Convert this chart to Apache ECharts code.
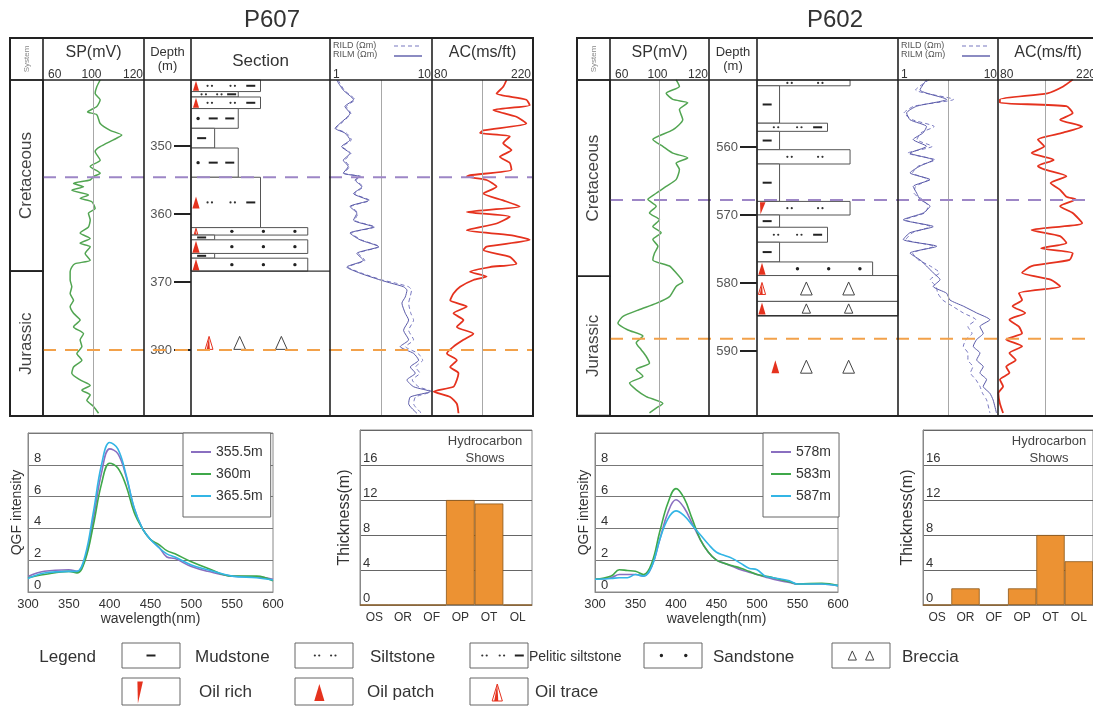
<!DOCTYPE html>
<html><head><meta charset="utf-8">
<script src="https://cdn.jsdelivr.net/npm/echarts@6/dist/echarts.min.js"></script>
<style>html,body{margin:0;padding:0;background:#fff}#c{width:1093px;height:706px}</style>
</head><body><div id="c"></div>
<script>
// ================= DATA =================
// ---- P607 well logs ----
const p607SpDepth = [340.3,341.3,342.3,343.2,344.2,345.0,345.4,346.7,347.7,348.4,349.1,350.1,350.8,352.1,353.0,354.0,354.5,355.0,355.5,356.0,356.5,357.2,357.7,358.2,359.2,359.9,360.9,361.9,362.8,363.6,364.3,364.8,365.8,366.8,367.3,367.8,368.5,369.7,370.7,371.7,372.7,373.6,374.6,375.6,376.6,377.6,378.5,379.5,380.5,381.5,382.5,383.4,384.4,385.2,385.9,386.6,387.4,388.3,389.3];
const p607Sp = [105.3,102.6,101.3,105.3,102.6,95.3,102.6,105.3,113.2,122.4,115.8,105.3,101.3,105.3,97.4,105.3,100,97.4,84.2,92.1,82.8,96.0,89.4,98.7,101.3,96.0,97.4,96.0,89.4,97.4,89.4,97.4,93.4,97.4,85.5,82.8,81.5,81.5,82.8,81.5,84.2,81.5,84.2,89.4,84.2,92.1,89.4,90.8,86.8,90.8,84.2,82.8,89.4,97.4,90.8,97.4,94.7,100,104];
const p607RilDepth = [340.3,341.8,343.2,344.2,345.2,346.7,347.4,348.1,349.1,350.1,351.1,352.1,353.0,354.0,354.5,355.0,356.0,357.0,358.0,358.9,359.9,360.9,361.9,362.8,363.8,364.8,365.8,366.8,367.8,368.7,369.7,370.2,370.7,371.2,372.2,373.1,374.6,375.6,377.1,378.5,379.5,380.5,381.5,382.5,383.4,384.4,385.4,386.1,386.9,387.9,389.3];
const p607Rilm = [1.16,1.35,1.70,1.40,1.57,1.25,1.12,1.40,1.57,1.30,1.57,1.35,1.51,1.35,1.97,1.76,2.05,1.70,2.38,1.57,1.83,1.70,2.67,1.57,1.97,2.99,1.83,2.13,1.46,1.97,3.10,4.04,5.26,5.68,5.47,5.07,5.47,5.90,5.26,5.90,4.88,6.61,7.39,6.13,6.86,5.68,6.61,9.63,6.13,5.90,7.12];
const p607Rild = [1.20,1.38,1.75,1.45,1.60,1.28,1.15,1.45,1.62,1.33,1.60,1.40,1.55,1.38,2.02,1.80,2.10,1.75,2.45,1.62,1.88,1.75,2.75,1.62,2.02,3.05,1.90,2.20,1.50,2.05,3.25,4.50,5.90,6.30,6.10,5.90,6.20,6.60,5.90,6.60,5.50,7.30,8.10,6.90,7.60,6.40,7.40,9.90,6.90,6.60,7.90];
const p607AcDepth = [340.3,341.3,342.3,343.2,344.0,344.7,345.7,346.7,347.7,348.1,348.6,349.6,350.6,351.6,352.5,353.5,354.3,354.5,355.0,356.0,357.0,358.0,358.9,359.7,360.4,361.4,362.4,363.1,363.8,364.8,365.3,366.3,367.3,367.8,368.5,369.2,369.7,370.7,371.7,372.7,373.6,374.6,375.6,376.6,377.6,378.5,379.5,380.5,381.5,382.5,383.4,384.4,385.4,386.1,386.9,387.9,389.3];
const p607Ac = [183.3,178.7,169.5,210.8,215.4,164.9,197.0,210.8,151.1,146.6,187.9,178.7,190.2,174.1,187.9,190.2,132.8,128.2,155.7,169.5,151.1,178.7,201.6,128.2,187.9,169.5,128.2,187.9,215.4,155.7,151.1,187.9,197.0,160.3,132.8,155.7,137.4,119.0,109.8,105.2,128.2,109.8,123.6,114.4,137.4,123.6,109.8,100.7,114.4,105.2,116.7,114.4,109.8,82.3,105.2,114.4,116.7];
const p607DepthTicks = [350,360,370,380];
const p607SysNames = ['Cretaceous','Jurassic'];
const p607SysTop = [340.3,368.4];
const p607SysBase = [368.4,389.7];
const p607Markers = [354.6,380.0];
const p607LayerTop = [340.3,342.0,342.8,344.5,347.4,350.3,354.6,362.0,363.1,363.8,365.8,366.5,378.2];
const p607LayerBase = [342.0,342.8,344.5,347.4,350.3,354.6,362.0,363.1,363.8,365.8,366.5,368.4,379.7];
const p607Grain = [50,34,50,34,17,34,50,84,17,84,17,84,100];
const p607Litho = ['pelitic','pelitic','pelitic','muddySand','mud','muddySand','pelitic','sand','mud','sand','mud','sand','breccia'];
const p607Oil = ['patch','','patch','','','','patch','trace','','patch','','patch','trace'];
const p607Boxed = [1,1,1,1,1,1,1,1,1,1,1,1,0];
const p607SectionBase = [368.4];

// ---- P602 well logs ----
const p602SpDepth = [550.1,551.1,552.1,553.0,553.5,554.5,556.0,557.5,558.9,559.9,560.9,561.6,562.4,563.3,564.8,565.8,566.8,567.7,568.7,569.7,570.7,571.7,572.6,573.6,574.6,575.6,576.6,577.5,578.5,579.8,580.5,582.0,583.0,583.9,584.9,585.9,586.9,587.8,588.8,589.8,590.8,591.8,592.7,593.7,594.7,595.7,596.7,597.7,598.4,599.1];
const p602Sp = [113.4,116.1,105.4,110.7,122.8,116.1,118.8,110.7,94.6,102.7,110.7,122.8,113.4,116.1,113.4,105.4,97.3,90.6,97.3,91.9,100,94.6,101.3,94.6,98.7,96.0,94.6,108.1,113.4,118.8,113.4,108.1,97.3,83.9,70.5,66.4,74.5,86.6,81.2,85.2,89.3,91.9,81.2,86.6,75.8,81.2,89.3,102.7,97.3,91.9];
const p602RilDepth = [550.1,551.6,553.0,554.0,555.0,556.0,557.0,557.9,558.9,559.9,560.9,561.9,562.8,563.8,564.8,565.8,566.8,567.7,568.7,569.7,570.7,571.7,572.6,573.6,574.6,575.6,576.6,577.5,578.5,579.5,580.5,581.5,582.5,583.4,584.4,585.4,586.4,587.4,588.3,589.3,590.3,591.3,592.3,593.2,594.2,595.2,596.2,597.2,599.1];
const p602Rilm = [1.93,1.66,3.06,1.54,1.22,1.32,1.93,1.79,1.42,1.93,1.32,2.25,1.66,1.32,2.09,1.42,1.54,1.66,2.09,1.79,1.13,2.25,1.32,1.13,2.44,1.32,1.66,1.93,2.25,2.63,2.25,3.06,3.31,4.50,6.12,8.29,6.60,7.12,6.12,5.66,6.60,6.12,7.12,6.60,7.68,7.12,8.29,8.94,9.65];
const p602Rild = [2.05,1.50,3.60,1.45,1.15,1.40,2.30,1.70,1.55,2.20,1.25,2.35,1.60,1.40,2.00,1.50,1.45,1.75,2.00,1.85,1.18,2.10,1.40,1.20,2.30,1.40,1.60,2.10,2.60,2.10,2.40,2.50,2.80,3.50,4.50,6.00,5.00,5.50,4.80,4.50,5.00,5.00,5.60,5.30,6.00,6.60,7.00,7.70,8.30];
const p602AcDepth = [550.1,551.1,552.1,553.0,553.5,554.0,555.0,556.0,557.0,557.9,558.9,559.9,560.9,561.9,562.8,563.3,564.3,565.3,566.3,567.3,567.7,568.7,569.7,571.2,572.2,573.1,574.1,574.9,575.6,576.6,577.5,578.5,579.5,580.5,581.5,582.5,583.4,584.4,585.4,586.4,587.4,588.3,589.3,590.3,591.3,592.3,593.2,594.2,595.2,596.2,597.7,599.1];
const p602Ac = [190.1,176.1,152.8,82.8,82.8,180.8,190.1,171.5,204.1,176.1,138.8,148.1,129.5,162.1,138.8,148.1,180.8,157.5,171.5,180.8,194.8,171.5,190.1,204.1,129.5,171.5,180.8,143.5,190.1,185.5,129.5,115.5,157.5,171.5,110.8,115.5,101.5,120.1,96.8,110.8,115.5,92.1,115.5,96.8,106.1,92.1,96.8,82.8,87.5,80.5,82.8,87.5];
const p602DepthTicks = [560,570,580,590];
const p602SysNames = ['Cretaceous','Jurassic'];
const p602SysTop = [550.15,579.0];
const p602SysBase = [579.0,599.5];
const p602Markers = [567.8,588.2];
const p602LayerTop = [550.15,551.0,556.5,557.7,560.4,562.5,568.0,570.0,571.8,574.0,576.9,578.9,582.7,591.6];
const p602LayerBase = [551.0,556.5,557.7,560.4,562.5,568.0,570.0,571.8,574.0,576.9,578.9,582.7,584.8,593.0];
const p602Grain = [66,16,50,16,66,16,66,16,50,16,82,100,100,100];
const p602Litho = ['silt','mud','pelitic','mud','silt','mud','silt','mud','pelitic','mud','sand','breccia','breccia','breccia'];
const p602Oil = ['','','','','','','rich','','','','patch','trace','patch','patch'];
const p602Boxed = [1,1,1,1,1,1,1,1,1,1,1,1,1,0];
const p602SectionBase = [584.8];

// ---- QGF spectra ----
const p607Wavelength = [300,320,350,360,370,380,390,400,410,420,430,440,450,460,470,480,500,520,550,580,600];
const qgf355 = [0.98,1.3,1.4,1.3,2.1,4.6,7.5,9.0,8.7,7.3,5.25,4.0,3.3,2.85,2.2,2.1,1.6,1.3,1.0,0.95,0.8];
const qgf360 = [0.9,1.1,1.3,1.2,2.0,4.2,6.8,8.1,7.8,6.7,5.0,4.0,3.3,3.0,2.6,2.4,1.9,1.5,1.0,1.0,0.7];
const qgf365 = [0.85,1.2,1.3,1.3,2.3,5.0,8.0,9.4,9.0,7.4,5.3,4.0,3.3,2.8,2.4,2.2,1.7,1.4,1.0,0.9,0.75];
const p607QgfNames = ['355.5m','360m','365.5m'];
const p602Wavelength = [300,320,330,340,350,360,370,380,390,400,410,420,430,440,450,460,470,480,490,500,510,520,540,550,580,600];
const qgf578 = [0.8,0.9,1.1,1.1,1.1,1.0,1.6,3.3,5.0,5.8,5.3,4.3,3.3,2.5,2.0,1.8,1.6,1.4,1.25,1.1,0.95,0.8,0.6,0.5,0.5,0.4];
const qgf583 = [0.8,1.0,1.4,1.35,1.3,1.1,1.8,3.8,5.6,6.5,5.9,4.6,3.3,2.5,2.0,1.8,1.65,1.5,1.3,1.1,1.0,0.9,0.65,0.5,0.55,0.4];
const qgf587 = [0.8,0.85,0.9,0.9,1.1,1.0,1.6,3.3,4.6,5.1,4.8,4.2,3.6,3.0,2.5,2.3,2.1,1.8,1.5,1.4,1.0,0.9,0.7,0.5,0.5,0.4];
const p602QgfNames = ['578m','583m','587m'];

// ---- Hydrocarbon shows ----
const showCategories = ['OS','OR','OF','OP','OT','OL'];
const p607Thickness = [0,0,0,12,11.6,0];
const p602Thickness = [0,1.9,0,1.9,8.0,5.0];

// ---- legend labels ----
const lithoLegendNames = ['Mudstone','Siltstone','Pelitic siltstone','Sandstone','Breccia'];
const oilLegendNames = ['Oil rich','Oil patch','Oil trace'];

// ================= STYLE / LAYOUT =================
const FONT = '"Liberation Sans", Arial, sans-serif';
const NARROW = '"Liberation Sans Narrow", "Liberation Sans", Arial, sans-serif';
const RED = '#e5321e';
const HEAD_TOP = 38, BODY_TOP = 80, BODY_BOT = 416;
const MARK_COLORS = ['#9d86c6', '#f2a14a'];
const QGF_COLORS = ['#8a6fc0', '#3fa84a', '#33b5e5'];

const grid = [], xAxis = [], yAxis = [], series = [], graphic = [], legend = [];

function addGrid(left, top, width, height, xa, ya) {
  const gi = grid.length;
  grid.push({left, top, width, height, show:false});
  xAxis.push(Object.assign({gridIndex:gi, show:false}, xa));
  yAxis.push(Object.assign({gridIndex:gi, show:false}, ya));
  return gi;
}

function T(x, y, text, size, align, color, font, extra) {
  graphic.push(Object.assign({type:'text', x, y, z:20, silent:true, style:{text, font: size + 'px ' + (font || FONT), fill: color || '#333', align: align || 'center', textAlign: align || 'center', verticalAlign:'middle', textVerticalAlign:'middle'}}, extra || {}));
}
function L(x1, y1, x2, y2, color, width, dash) {
  graphic.push({type:'line', z:10, silent:true, shape:{x1, y1, x2, y2}, style:{stroke: color, lineWidth: width, lineDash: dash || null}});
}

const PATTERNS = {
  mud: [[0.45,'dash']],
  silt: [[0.35,'ss'],[0.68,'ss']],
  pelitic: [[0.27,'ss'],[0.6,'ss'],[0.86,'dash']],
  muddySand: [[0.15,'dot'],[0.47,'dash'],[0.82,'dash']],
  sand: [[0.35,'dot'],[0.62,'dot'],[0.89,'dot']],
  breccia: [[0.35,'tri'],[0.65,'tri']]
};

function symEls(kind, x, y, s) {
  if (kind === 'dash') return [{type:'rect', shape:{x:x-4.5, y:y-1, width:9, height:2}, style:{fill:'#222'}}];
  if (kind === 'ss') return [{type:'circle', shape:{cx:x-2.2, cy:y, r:1.1}, style:{fill:'#333'}}, {type:'circle', shape:{cx:x+2.2, cy:y, r:1.1}, style:{fill:'#333'}}];
  if (kind === 'dot') return [{type:'circle', shape:{cx:x, cy:y, r:1.7}, style:{fill:'#222'}}];
  if (kind === 'tri') { const t = 13 * s, hw = t * 0.45; return [{type:'polygon', shape:{points:[[x, y-t/2],[x+hw, y+t/2],[x-hw, y+t/2]]}, style:{fill:'none', stroke:'#444', lineWidth:1}}]; }
  return [];
}
function oilEls(kind, x, y, t) {
  const hw = t * 0.3;
  if (kind === 'patch') return [{type:'polygon', shape:{points:[[x, y-t/2],[x+hw, y+t/2],[x-hw, y+t/2]]}, style:{fill:RED}}];
  if (kind === 'trace') return [
    {type:'polygon', shape:{points:[[x, y-t/2],[x+hw, y+t/2],[x-hw, y+t/2]]}, style:{fill:'none', stroke:RED, lineWidth:1}},
    {type:'polygon', shape:{points:[[x, y-t/2],[x+hw*0.2, y+t/2],[x-hw*0.6, y+t/2]]}, style:{fill:RED}}];
  if (kind === 'rich') return [{type:'polygon', shape:{points:[[x-2, y-t/2],[x+3.5, y-t/2],[x-1.5, y+t/2]]}, style:{fill:RED}}];
  return [];
}

function systemRender(names) {
  return function (params, api) {
    const a = api.coord([0, api.value(0)]), b = api.coord([1, api.value(1)]);
    return {type:'group', children:[
      {type:'rect', shape:{x:a[0], y:a[1], width:b[0]-a[0], height:b[1]-a[1]}, style:{fill:'none', stroke:'#222', lineWidth:1.6}},
      {type:'text', x:(a[0]+b[0])/2, y:(a[1]+b[1])/2, rotation:Math.PI/2,
       style:{text:names[params.dataIndex], font:'17px ' + FONT, fill:'#444', align:'center', textAlign:'center', verticalAlign:'middle', textVerticalAlign:'middle'}}
    ]};
  };
}
function sectionRender(lith, oil, boxed) {
  return function (params, api) {
    const i = params.dataIndex;
    const a = api.coord([0, api.value(0)]), b = api.coord([api.value(2), api.value(1)]);
    const x0 = a[0], y0 = a[1], w = b[0]-a[0], h = b[1]-a[1], cy = y0 + h/2;
    const ch = [];
    if (boxed[i]) ch.push({type:'rect', shape:{x:x0, y:y0, width:w, height:h}, style:{fill:'#fff', stroke:'#555', lineWidth:1}});
    const s = boxed[i] ? Math.max(0.4, Math.min(1, (h-5)/13)) : 1;
    (PATTERNS[lith[i]] || []).forEach(p => symEls(p[1], x0 + p[0]*w, cy, s).forEach(e => ch.push(e)));
    if (oil[i]) {
      const t = boxed[i] ? Math.min(12, h - 1.5) : 13;
      oilEls(oil[i], x0 + (boxed[i] ? 5 : 0.13*w), cy, t).forEach(e => ch.push(e));
    }
    return {type:'group', children:ch};
  };
}
function hlineRender(colors, dash, width, xmax) {
  return function (params, api) {
    const d = api.value(1);
    const a = api.coord([0, d]), b = api.coord([xmax, d]);
    return {type:'line', shape:{x1:a[0], y1:a[1], x2:b[0], y2:b[1]}, style:{stroke:colors[params.dataIndex % colors.length], lineWidth:width, lineDash:dash}};
  };
}
function logLine(g, vals, depths, color, width, dashed, ref) {
  const s = {type:'line', xAxisIndex:g, yAxisIndex:g, data: depths.map((d, i) => [vals[i], d]),
    showSymbol:false, symbol:'none', smooth:0.2, silent:true, z:3,
    lineStyle:{color, width, type: dashed ? [4,3] : 'solid'}, itemStyle:{color}};
  if (ref != null) s.markLine = {silent:true, symbol:'none', label:{show:false}, animation:false,
    lineStyle:{color:'#a8a8a8', width:1, type:'solid'}, data:[{xAxis:ref}]};
  return s;
}

function buildWell(c) {
  const C = c.cols, H = BODY_BOT - BODY_TOP;
  const wd = k => C[k][1] - C[k][0];
  const dAxis = extra => Object.assign({type:'value', min:c.dmin, max:c.dmax, inverse:true}, extra || {});
  // system column
  let g = addGrid(C.sys[0], BODY_TOP, wd('sys'), H, {type:'value', min:0, max:1}, dAxis());
  series.push({type:'custom', xAxisIndex:g, yAxisIndex:g, silent:true, data:c.sysTop.map((t, i) => [t, c.sysBase[i]]), renderItem:systemRender(c.sysNames)});
  // SP
  g = addGrid(C.sp[0], BODY_TOP, wd('sp'), H, {type:'value', min:60, max:140}, dAxis());
  series.push(logLine(g, c.sp, c.spDepth, '#52a552', 1.5, false, 100));
  // section + depth axis
  g = addGrid(C.sec[0], BODY_TOP, wd('sec'), H, {type:'value', min:0, max:100}, dAxis({show:true, position:'left',
    axisLine:{show:false}, splitLine:{show:false},
    axisTick:{show:true, length:17, lineStyle:{color:'#222', width:2}, customValues:c.ticks},
    axisLabel:{show:true, customValues:c.ticks, color:'#555', fontSize:13, margin:19, fontFamily:FONT}}));
  series.push({type:'custom', xAxisIndex:g, yAxisIndex:g, silent:true, data:c.layerTop.map((t, i) => [t, c.layerBase[i], c.grain[i]]), renderItem:sectionRender(c.litho, c.oil, c.boxed)});
  series.push({type:'custom', xAxisIndex:g, yAxisIndex:g, silent:true, z:4, data:c.secBase.map(d => [0, d]), renderItem:hlineRender(['#333'], null, 1.4, 100)});
  // resistivity
  g = addGrid(C.ril[0], BODY_TOP, wd('ril'), H, {type:'log', min:1, max:10, logBase:10}, dAxis());
  series.push(logLine(g, c.rild, c.rilDepth, '#7878c0', 1, true, 3.162));
  series.push(logLine(g, c.rilm, c.rilDepth, '#5a5aa8', 1, false));
  // AC
  g = addGrid(C.ac[0], BODY_TOP, wd('ac'), H, {type:'value', min:80, max:220}, dAxis());
  series.push(logLine(g, c.ac, c.acDepth, RED, 1.8, false, 150));
  // marker dashed lines overlay
  g = addGrid(C.sp[0], BODY_TOP, C.ac[1] - C.sp[0], H, {type:'value', min:0, max:1}, dAxis());
  series.push({type:'custom', xAxisIndex:g, yAxisIndex:g, silent:true, z:6, data:c.markers.map(d => [0, d]), renderItem:hlineRender(MARK_COLORS, [13,9], 2, 1)});

  // frame
  const Lx = C.sys[0], Rx = C.ac[1];
  graphic.push({type:'rect', z:10, silent:true, shape:{x:Lx, y:HEAD_TOP, width:Rx-Lx, height:BODY_BOT-HEAD_TOP}, style:{fill:'none', stroke:'#222', lineWidth:2}});
  [C.sp[0], C.dep[0], C.sec[0], C.ril[0], C.ac[0]].forEach(x => L(x, HEAD_TOP, x, BODY_BOT, '#222', 1.6));
  L(Lx, BODY_TOP, Rx, BODY_TOP, '#222', 1.6);

  // header
  const mid = k => (C[k][0] + C[k][1]) / 2;
  T(mid('sys'), 59, 'System', 8, 'center', '#888', FONT, {rotation:Math.PI/2});
  T(mid('sp'), 53, 'SP(mV)', 16);
  T(C.sp[0] + 5, 75, '60', 12, 'left');
  T(C.sp[0] + wd('sp')*0.48, 75, '100', 12, 'center');
  T(C.sp[1] - 1, 75, '120', 12, 'right');
  T(mid('dep'), 52, 'Depth', 13);
  T(mid('dep'), 66, '(m)', 13);
  if (c.showSection) T(mid('sec'), 61, 'Section', 17);
  T(C.ril[0] + 3, 46, 'RILD (\u03a9m)', 9, 'left', '#555');
  T(C.ril[0] + 3, 55, 'RILM (\u03a9m)', 9, 'left', '#555');
  L(C.ril[0] + 64, 46, C.ril[0] + 92, 46, '#7878c0', 1.2, [4,3]);
  L(C.ril[0] + 64, 56, C.ril[0] + 92, 56, '#5a5aa8', 1.4);
  T(C.ril[0] + 3, 75, '1', 12, 'left');
  T(C.ril[1] - 1, 75, '10', 12, 'right');
  T(mid('ac'), 53, 'AC(ms/ft)', 16);
  T(C.ac[0] + 2, 75, '80', 12, 'left');
  T(C.ac[1] - 2, 75, '220', 12, 'right');
  T(c.titleX, 20, c.name, 24, 'center', '#333');
}

buildWell({name:'P607', titleX:272, showSection:true, dmin:340.3, dmax:389.7,
  cols:{sys:[10,43], sp:[43,144], dep:[144,191], sec:[191,330], ril:[330,432], ac:[432,533]},
  ticks:p607DepthTicks, sysNames:p607SysNames, sysTop:p607SysTop, sysBase:p607SysBase,
  sp:p607Sp, spDepth:p607SpDepth, rilm:p607Rilm, rild:p607Rild, rilDepth:p607RilDepth, ac:p607Ac, acDepth:p607AcDepth,
  layerTop:p607LayerTop, layerBase:p607LayerBase, grain:p607Grain, litho:p607Litho, oil:p607Oil, boxed:p607Boxed,
  secBase:p607SectionBase, markers:p607Markers});
buildWell({name:'P602', titleX:835, showSection:false, dmin:550.15, dmax:599.55,
  cols:{sys:[577,610], sp:[610,709], dep:[709,757], sec:[757,898], ril:[898,998], ac:[998,1098]},
  ticks:p602DepthTicks, sysNames:p602SysNames, sysTop:p602SysTop, sysBase:p602SysBase,
  sp:p602Sp, spDepth:p602SpDepth, rilm:p602Rilm, rild:p602Rild, rilDepth:p602RilDepth, ac:p602Ac, acDepth:p602AcDepth,
  layerTop:p602LayerTop, layerBase:p602LayerBase, grain:p602Grain, litho:p602Litho, oil:p602Oil, boxed:p602Boxed,
  secBase:p602SectionBase, markers:p602Markers});

// ---- QGF charts ----
function buildQgf(left, width, wl, curves, names, legendLeft) {
  const gi = grid.length;
  grid.push({left, top:433, width, height:159, show:true, borderColor:'#888', borderWidth:1, backgroundColor:'#fff'});
  xAxis.push({gridIndex:gi, type:'value', min:300, max:600, interval:50,
    axisLine:{show:true, lineStyle:{color:'#888'}}, axisTick:{show:false}, splitLine:{show:false},
    axisLabel:{color:'#333', fontSize:13, margin:6, fontFamily:FONT},
    name:'wavelength(nm)', nameLocation:'middle', nameGap:19, nameTextStyle:{fontSize:14, color:'#333', fontFamily:FONT}});
  yAxis.push({gridIndex:gi, type:'value', min:0, max:10, interval:2,
    axisLine:{show:true, lineStyle:{color:'#888'}}, axisTick:{show:false},
    splitLine:{show:true, lineStyle:{color:'#777', width:1}},
    axisLabel:{inside:true, verticalAlign:'bottom', margin:6, fontSize:13, color:'#333', fontFamily:FONT, formatter:v => v === 10 ? '' : v},
    name:'QGF intensity', nameLocation:'middle', nameGap:4, nameTextStyle:{fontSize:14, color:'#333', fontFamily:FONT}});
  curves.forEach((cv, k) => series.push({type:'line', name:names[k], xAxisIndex:gi, yAxisIndex:gi,
    data: wl.map((w, i) => [w, cv[i]]), showSymbol:false, symbol:'none', smooth:0.4,
    lineStyle:{color:QGF_COLORS[k], width:1.6}, itemStyle:{color:QGF_COLORS[k]}, z:3}));
  legend.push({data:names, orient:'vertical', left:legendLeft, top:433, padding:[12,8,14,8], itemGap:8,
    icon:'rect', itemWidth:20, itemHeight:2, selectedMode:false,
    textStyle:{fontSize:14, color:'#333', fontFamily:FONT}, borderColor:'#666', borderWidth:1, backgroundColor:'#fff'});
}
buildQgf(28, 245, p607Wavelength, [qgf355, qgf360, qgf365], p607QgfNames, 183);
buildQgf(595, 243, p602Wavelength, [qgf578, qgf583, qgf587], p602QgfNames, 763);

// ---- Hydrocarbon show bars ----
function buildBars(left, width, vals, textX) {
  const gi = grid.length;
  grid.push({left, top:430, width, height:175, show:true, borderColor:'#888', borderWidth:1, backgroundColor:'#fff'});
  xAxis.push({gridIndex:gi, type:'category', data:showCategories,
    axisLine:{show:true, lineStyle:{color:'#888'}}, axisTick:{show:false},
    axisLabel:{color:'#333', fontSize:12, margin:7, interval:0, fontFamily:FONT}});
  yAxis.push({gridIndex:gi, type:'value', min:0, max:20, interval:4,
    axisLine:{show:true, lineStyle:{color:'#888'}}, axisTick:{show:false},
    splitLine:{show:true, lineStyle:{color:'#666', width:1}},
    axisLabel:{inside:true, verticalAlign:'bottom', margin:3, fontSize:13, color:'#333', fontFamily:FONT, formatter:v => v === 20 ? '' : v},
    name:'Thickness(m)', nameLocation:'middle', nameGap:7, nameTextStyle:{fontSize:16, color:'#333', fontFamily:FONT}});
  series.push({type:'bar', xAxisIndex:gi, yAxisIndex:gi, data:vals, barCategoryGap:'0%', silent:true,
    itemStyle:{color:'#ec9233', borderColor:'#8a5517', borderWidth:0.8}, z:3});
  T(textX, 441, 'Hydrocarbon', 13, 'center', '#444');
  T(textX, 458, 'Shows', 13, 'center', '#444');
}
buildBars(360, 172, p607Thickness, 485);
buildBars(923, 180, p602Thickness, 1049);

// ---- bottom legend ----
T(96, 657, 'Legend', 17, 'right', '#333', NARROW);
const lithoKeys = ['mud','silt','pelitic','sand','breccia'];
const lithoBoxX = [122, 295, 470, 644, 832];
const lithoTextX = [195, 370, 529, 713, 902];
const legendPatterns = {mud:[[0.5,'dash']], silt:[[0.38,'ss'],[0.66,'ss']], pelitic:[[0.25,'ss'],[0.55,'ss'],[0.85,'dash']], sand:[[0.3,'dot'],[0.72,'dot']], breccia:[[0.35,'tri'],[0.65,'tri']]};
lithoKeys.forEach((k, i) => {
  const bx = lithoBoxX[i], by = 643, bw = 58, bh = 25;
  graphic.push({type:'rect', z:10, silent:true, shape:{x:bx, y:by, width:bw, height:bh}, style:{fill:'#fff', stroke:'#666', lineWidth:1}});
  legendPatterns[k].forEach(p => symEls(p[1], bx + p[0]*bw, by + bh/2, 0.7).forEach(e => { e.z = 11; e.silent = true; graphic.push(e); }));
  T(lithoTextX[i], 657, lithoLegendNames[i], i === 2 ? 14 : 17, 'left', '#333', NARROW);
});
const oilKeys = ['rich','patch','trace'];
const oilBoxX = [122, 295, 470];
const oilPos = [0.3, 0.42, 0.47];
const oilTextX = [199, 367, 535];
oilKeys.forEach((k, i) => {
  const bx = oilBoxX[i], by = 678, bw = 58, bh = 27;
  graphic.push({type:'rect', z:10, silent:true, shape:{x:bx, y:by, width:bw, height:bh}, style:{fill:'#fff', stroke:'#666', lineWidth:1}});
  oilEls(k, bx + oilPos[i]*bw, by + bh/2 + 1, k === 'rich' ? 22 : 17).forEach(e => { e.z = 11; e.silent = true; graphic.push(e); });
  T(oilTextX[i], 692, oilLegendNames[i], 17, 'left', '#333', NARROW);
});

const chart = echarts.init(document.getElementById('c'), null, {renderer:'canvas'});
chart.setOption({animation:false, backgroundColor:'#fff', textStyle:{fontFamily:FONT},
  grid, xAxis, yAxis, series, legend, graphic});
</script></body></html>
